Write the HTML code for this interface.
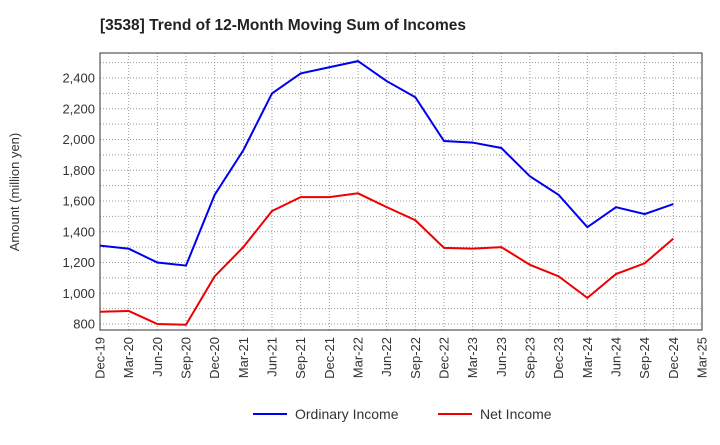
<!DOCTYPE html>
<html><head><meta charset="utf-8"><style>
body{margin:0;background:#fff;font-family:"Liberation Sans",sans-serif;}
svg text{font-family:"Liberation Sans",sans-serif;}
</style></head><body>
<svg id="c" width="720" height="440" xmlns="http://www.w3.org/2000/svg">
<text x="100" y="30" font-size="15.5" font-weight="bold" fill="#222">[3538]  Trend of 12-Month Moving Sum of Incomes</text>
<text transform="translate(19,192) rotate(-90)" text-anchor="middle" font-size="13" fill="#333">Amount (million yen)</text>
<g id="grid"></g><g id="axes"></g><g id="series"></g>
<g>
<line x1="253" y1="414" x2="287" y2="414" stroke="#0000ee" stroke-width="2"/>
<text x="295" y="419" font-size="14" fill="#333">Ordinary Income</text>
<line x1="438" y1="414" x2="472" y2="414" stroke="#ee0000" stroke-width="2"/>
<text x="480" y="419" font-size="14" fill="#333">Net Income</text>
</g>
</svg>
<script>
const categories=["Dec-19","Mar-20","Jun-20","Sep-20","Dec-20","Mar-21","Jun-21","Sep-21","Dec-21","Mar-22","Jun-22","Sep-22","Dec-22","Mar-23","Jun-23","Sep-23","Dec-23","Mar-24","Jun-24","Sep-24","Dec-24","Mar-25"];
const ordinaryIncome=[1310,1290,1200,1180,1640,1930,2300,2430,2470,2510,2380,2275,1990,1980,1945,1760,1640,1430,1560,1515,1580];
const netIncome=[880,885,800,795,1110,1300,1535,1625,1625,1650,1560,1475,1295,1290,1300,1185,1110,970,1125,1195,1355];
const yTicks=[800,1000,1200,1400,1600,1800,2000,2200,2400];
const L=100,R=702,T=53,B=330;
const x=i=>L+i*(R-L)/(categories.length-1);
const y=v=>324-(v-800)*(246/1600);
const NS="http://www.w3.org/2000/svg";
function mk(t,a,p){const e=document.createElementNS(NS,t);for(const k in a)e.setAttribute(k,a[k]);p.appendChild(e);return e;}
const g=document.getElementById('grid'),ax=document.getElementById('axes'),s=document.getElementById('series');
for(let v=800;v<=2500;v+=100){const l=mk('line',{x1:L,x2:R,y1:y(v),y2:y(v),stroke:'#999','stroke-dasharray':'1,2'},g);

}
categories.forEach((c,i)=>{const l=mk('line',{x1:x(i),x2:x(i),y1:T,y2:B,stroke:'#999','stroke-dasharray':'1,2'},g);


const t=mk('text',{transform:`translate(${x(i)+4.5},${B+7}) rotate(-90)`,'text-anchor':'end','font-size':'13',fill:'#333'},ax);t.textContent=c;

});
yTicks.forEach(v=>{const t=mk('text',{x:L-5,y:y(v)+4.5,'text-anchor':'end','font-size':'13',fill:'#333'},ax);t.textContent=v.toLocaleString('en-US');

});
const f=mk('rect',{x:L,y:T,width:R-L,height:B-T,fill:'none',stroke:'#333'},ax);


function line(d,col,name){const p=mk('polyline',{points:d.map((v,i)=>x(i)+','+y(v)).join(' '),fill:'none',stroke:col,'stroke-width':2},s);

}
line(ordinaryIncome,'#0000ee','ordinary-income-line');
line(netIncome,'#ee0000','net-income-line');
</script>
</body></html>
